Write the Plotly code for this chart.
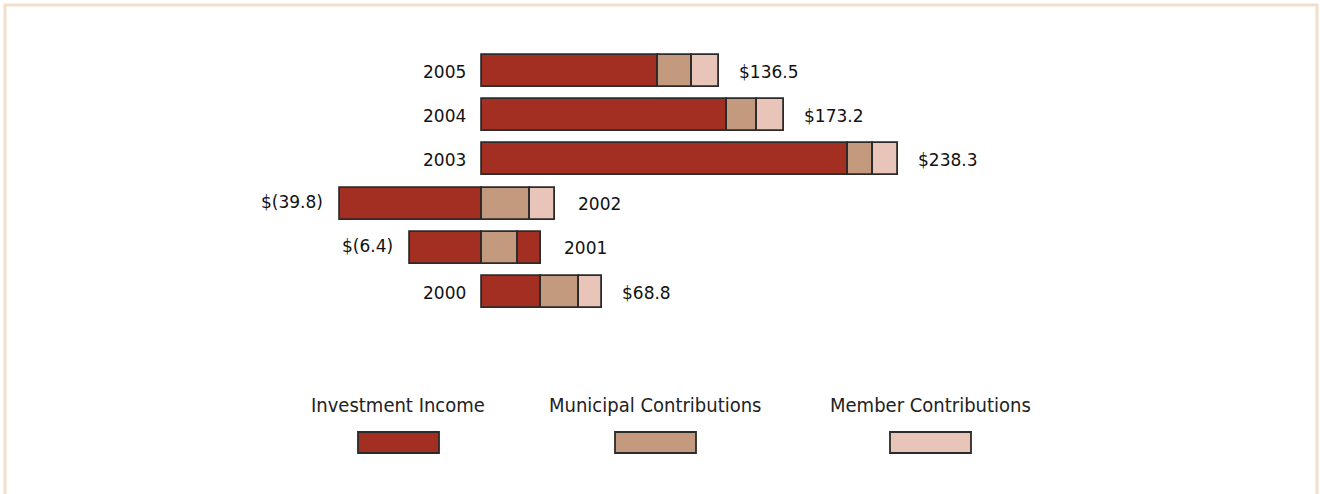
import plotly.graph_objects as go

years = [2005, 2004, 2003, 2002, 2001, 2000]
investment = [100.8, 140.5, 209.7, -81.6, -41.3, 33.8]
municipal = [19.5, 17.2, 14.3, 27.5, 20.6, 21.8]
member = [15.5, 15.5, 14.3, 14.3, 13.0, 13.2]
totals = [136.5, 173.2, 238.3, -39.8, -6.4, 68.8]
total_labels = ["$136.5", "$173.2", "$238.3", "$(39.8)", "$(6.4)", "$68.8"]
series_names = ["Investment Income", "Municipal Contributions", "Member Contributions"]

C_INV = "#A22F22"
C_MUN = "#C49A7E"
C_MEM = "#E9C5B9"
EDGE = "#2b2b2b"

W, H = 1320, 494
PX_PER_UNIT = 1.745
ZERO_PX = 482
xr = [-ZERO_PX / PX_PER_UNIT, (W - ZERO_PX) / PX_PER_UNIT]
PX_PER_YEAR = 44.2
TOP_PX = 71
yr = [2005 - (H - TOP_PX) / PX_PER_YEAR, 2005 + TOP_PX / PX_PER_YEAR]
bw = 32 / PX_PER_YEAR

fig = go.Figure()
member_colors = [C_INV if y == 2001 else C_MEM for y in years]
for name, vals, col in [(series_names[0], investment, C_INV),
                        (series_names[1], municipal, C_MUN),
                        (series_names[2], member, member_colors)]:
    fig.add_trace(go.Bar(
        y=years, x=vals, orientation="h", name=name, width=bw,
        marker=dict(color=col, line=dict(color=EDGE, width=1.8)),
        showlegend=False, hoverinfo="x+y+name"))

FONT = "DejaVu Sans"
annotations = []
for y, inv, mun, mem, tl in zip(years, investment, municipal, member, total_labels):
    pos_end = (mun + mem) + (inv if inv > 0 else 0)
    if inv >= 0:
        annotations.append(dict(x=0, y=y, xref="x", yref="y", text=str(y), showarrow=False,
                                xanchor="right", xshift=-14, yshift=-1,
                                font=dict(family=FONT, size=17, color="#111")))
        annotations.append(dict(x=pos_end, y=y, xref="x", yref="y", text=tl, showarrow=False,
                                xanchor="left", xshift=18, yshift=-1,
                                font=dict(family=FONT, size=17, color="#111")))
    else:
        annotations.append(dict(x=inv, y=y, xref="x", yref="y", text=tl, showarrow=False,
                                xanchor="right", xshift=-15, yshift=2,
                                font=dict(family=FONT, size=17, color="#111")))
        annotations.append(dict(x=mun + mem, y=y, xref="x", yref="y", text=str(y), showarrow=False,
                                xanchor="left", xshift=21, yshift=0,
                                font=dict(family=FONT, size=17, color="#111")))

legend_centers = [398, 655, 930]
legend_cols = [C_INV, C_MUN, C_MEM]
shapes = []
for name, cx, col in zip(series_names, legend_centers, legend_cols):
    annotations.append(dict(x=cx / W, y=1 - 405 / H, xref="paper", yref="paper", text=name,
                            showarrow=False, xanchor="center", yanchor="middle",
                            font=dict(family="DejaVu Sans Condensed", size=20, color="#222")))
    shapes.append(dict(type="rect", xref="paper", yref="paper",
                       x0=(cx - 40) / W, x1=(cx + 41) / W,
                       y0=1 - 453 / H, y1=1 - 432 / H,
                       fillcolor=col, line=dict(color=EDGE, width=1.8)))

shapes.append(dict(type="rect", xref="paper", yref="paper",
                   x0=5 / W, x1=1317 / W, y0=-0.05, y1=1 - 5 / H,
                   fillcolor="rgba(0,0,0,0)", line=dict(color="#F1DFCB", width=3), layer="below"))

fig.update_layout(
    width=W, height=H, margin=dict(l=0, r=0, t=0, b=0),
    paper_bgcolor="white", plot_bgcolor="white",
    barmode="relative", bargap=0,
    xaxis=dict(range=xr, visible=False, fixedrange=True),
    yaxis=dict(range=yr, visible=False, fixedrange=True),
    annotations=annotations, shapes=shapes,
)

fig.write_html("out.html")
